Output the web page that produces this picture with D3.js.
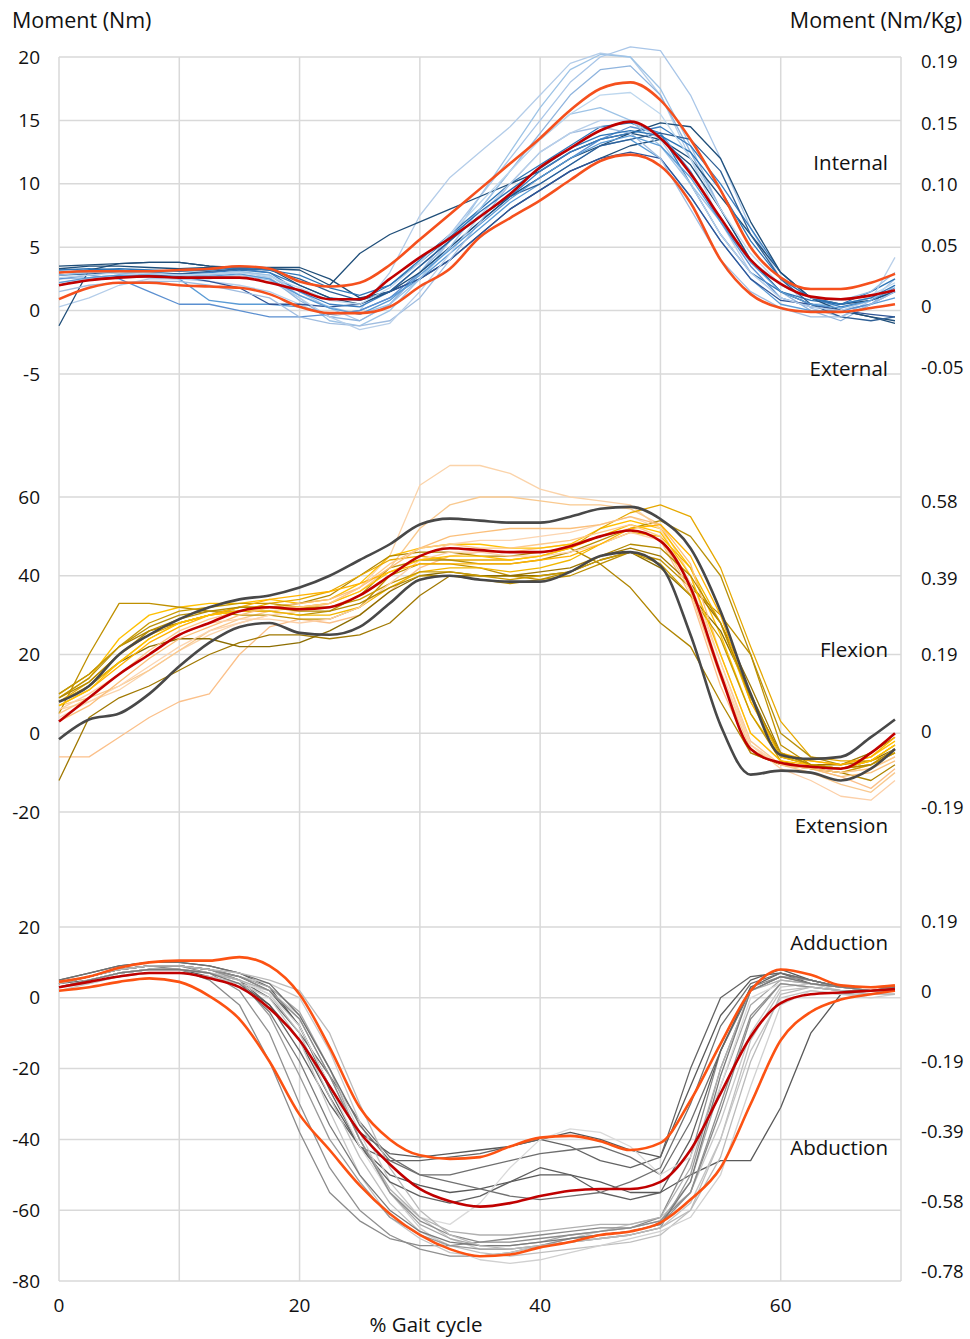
<!DOCTYPE html>
<meta charset="utf-8">
<style>
body { margin: 0; background: #fff; }
text { font-family: "Open Sans", "Noto Sans", sans-serif; fill: #111; }
.grid line { stroke: #d9d9d9; stroke-width: 1.5; }
.trace { fill: none; stroke-width: 1.3; stroke-linejoin: round; }
.band { fill: none; stroke-width: 2.6; }
.mean { fill: none; stroke: #c00000; stroke-width: 2.6; }
</style>
<svg width="970" height="1339"></svg>
<script src="https://d3js.org/d3.v7.min.js"></script>
<script>

// % gait cycle sample points shared by every series
var xs = [0,2.5,5,7.5,10,12.5,15,17.5,20,22.5,25,27.5,30,32.5,35,37.5,40,42.5,45,47.5,50,52.5,55,57.5,60,62.5,65,67.5,69.5];

// ---- rotation (internal / external) ----
var rotMean  = [2.0,2.4,2.6,2.7,2.6,2.6,2.6,2.2,1.6,0.9,0.9,2.5,4.2,5.7,7.4,9.2,11.3,12.8,14.2,14.9,13.6,10.8,7.3,4.0,2.1,1.1,0.9,1.2,1.6];
var rotUpper = [3.0,3.1,3.1,3.1,3.2,3.3,3.5,3.3,2.3,1.9,2.2,3.6,5.6,7.6,9.6,11.6,13.6,15.8,17.5,18.0,16.6,13.5,9.5,5.0,2.6,1.7,1.7,2.2,2.9];
var rotLower = [0.9,1.8,2.2,2.2,2.0,1.9,1.8,1.3,0.3,-0.2,-0.2,0.3,1.9,3.3,5.8,7.3,8.7,10.3,11.8,12.3,11.4,8.5,4.0,1.3,0.2,-0.1,-0.1,0.2,0.5];
var rotTraces = [
  [0.3,1.0,2.0,2.5,2.5,2.3,2.0,1.5,0.5,-0.5,0.0,3.0,7.5,10.5,12.5,14.5,17,19.5,20.3,20,17,12,7,3,1,0.3,0.5,1,1.5],
  [2.0,2.5,2.7,2.6,2.5,2.6,2.8,2.4,1.0,-0.8,-1.2,0,2.5,5.5,9,12.5,16,19,20.2,20,17.5,13,8,4,1.5,0.5,0.5,1.0,1.5],
  [3.0,3.2,3.0,2.8,2.6,2.8,3.0,2.8,1.5,0.2,-0.8,0.5,3,6,9,12,15,18,20,20.8,20.5,17,12,6.5,2.5,0.2,-0.5,0.8,2.5],
  [2.5,2.6,2.8,2.8,2.7,2.8,3.1,2.6,0.8,-0.5,-0.8,0.5,3.0,5.5,8.0,11,14,17,19,19.3,17,12.5,8,4,1.5,0.0,-0.8,0.5,2.0],
  [3.2,3.3,3.2,3.0,2.9,3.0,3.2,3.0,2.0,1.0,0.8,2,4,6,8,10,11.5,13,14.5,14.8,14,10,6,3,1.5,0.8,0.5,1.5,2.5],
  [-1.2,3.2,3.7,3.8,3.8,3.5,3.3,3.3,3.2,2.0,4.5,6,7,8,9,10,11,12.5,13.5,14,13.5,11.5,8,4,1.5,0.5,0,-0.5,-0.8],
  [3.5,3.6,3.7,3.8,3.8,3.5,3.4,3.4,3.4,2.5,1.0,1.5,2.5,4,6,8,9.5,11,12,13,13.5,12,9,6,3,1,0,-0.5,-1.0],
  [2.8,3.0,3.2,3.0,2.5,0.8,0.5,0.5,0.3,-0.3,0,1,2.5,4.5,6.5,8.5,10,11.5,13,13.5,12,9,5.5,2.5,0.5,0,0,0.5,1.0],
  [2.5,2.8,2.5,1.5,0.5,0.5,0.0,-0.5,-0.5,-0.3,0.0,1.0,3,5,7,9,10.5,12,13.5,14.5,14,11,7,3.5,1.0,0.3,0.0,0.5,1.5],
  [2.0,2.5,2.7,2.8,2.7,2.3,1.8,0.5,0.5,0.3,0.5,1.5,2.5,4,6,8,9.5,11,12,12.5,12,9,5.5,2.5,0.8,0.5,0.0,-0.3,-0.5],
  [3.0,3.1,3.0,2.9,2.8,3.0,3.3,3.0,1.5,0.5,0.3,1.5,3.5,5.5,7.5,9,11,12.5,13.5,14,14.5,13,10,6.5,3,1,0.3,0.8,1.5],
  [3.3,3.5,3.5,3.4,3.3,3.4,3.5,3.3,2.0,1.0,0.5,1.5,3,5,7,9,10.5,12,13,14,14.8,14.5,12,7,3,1,0.5,0.8,1.5],
  [2.8,2.9,3.0,3.0,2.9,3.1,3.3,3.2,2.5,1.5,0.8,1.5,3.5,5.5,7.5,9,10,11.5,13,13.5,14,13.5,11,6,2.5,0.5,-0.5,-0.8,-0.5],
  [1.5,2.0,2.2,2.3,2.3,2.0,1.5,1.0,-0.5,-1.0,-1.2,-0.8,1.0,4,7,10,12.5,14,14.5,14,12,8,4,1.5,0.2,-0.5,-0.5,0.5,1.5],
  [2.2,2.5,2.8,2.6,2.5,2.5,2.8,2.6,1.0,-0.5,-1.5,-1.0,1.5,4.5,7.5,10,12.5,14,15,15,13.5,10,6,3,1,0.3,0.0,0.8,4.2],
  [2.8,3.0,3.1,3.0,2.8,2.9,3.1,2.8,1.2,0.3,-0.3,0.5,2.5,5,8,11,13.5,15.5,16,15,13,10,7,4,2,1,0.8,1.5,3.0],
  [3.0,3.2,3.3,3.2,3.1,3.2,3.4,3.2,2.8,1.8,1.2,2.0,3.8,5.8,7.8,9.5,11.2,12.8,13.8,14.2,13.8,12.5,9.5,5.5,2.5,1.0,0.5,1.0,2.0],
  [2.2,2.6,2.8,2.7,2.6,2.7,2.9,2.5,1.2,0.2,-0.3,0.8,2.8,4.8,6.8,8.8,10.5,12,13.2,13.8,13,10.5,7,3.8,1.5,0.5,0.2,0.8,1.8],
  [2.6,2.8,3.0,2.9,2.8,2.9,3.0,2.7,1.8,0.8,0.5,1.8,3.8,6,8.5,11,13.5,15.5,17,17.2,15.5,12,8,4.5,2,1,0.8,1.2,2.2]
];
var rotColors = ["#b4cde9","#9dc3e6","#a9c6e8","#8fb4de","#2e75b6","#1f4e79","#1f4e79","#5b9bd5","#5b8fd0","#2f5597","#3a7dc0","#1f4e79","#2e5f95","#a0bde0","#b8cfe9","#9dc3e6","#2e75b6","#5b9bd5","#bdd7ee"];

// ---- flexion / extension ----
var flxMean  = [3,9,15,20,25,28,31,32,31.5,32,35,40,45,47,46.5,46,46,47.5,50,51.5,48.8,37,15,-4,-7.5,-8.5,-9,-5,0];
var flxUpper = [8,12,20,25,29,32,34,35,37,40,44,48,53,54.5,54,53.5,53.5,55,57,57.5,54.4,47,31,10,-5.5,-6.5,-6,-1,3.5];
var flxLower = [-1.5,3.5,5,10,17,23,27,28,25.5,25,27,33,39,40,39,38.5,38.5,41,45,46,42.5,25,2,-10.5,-9.5,-10,-12,-9,-4];
var flxTraces = [
  [6,8,11,16,21,25,28,30,31,33,37,45,63,68,68,66,62,60,59,58,52,38,15,-3,-8,-9,-10,-9,-6],
  [7,9,12,16,21,26,29,31,32,33,36,42,52,58,60,60,59,58,58,57,53,40,18,-2,-8,-10,-13,-15,-10],
  [-6,-6,-1,4,8,10,20,27,29,28,30,36,42,45,46,46,47,48,50,52,49,35,12,-5,-8,-9,-11,-14,-9],
  [9,14,24,30,32,33,33,34,33,34,38,45,47,48,48,47,47,48,52,54,52,42,25,5,-6,-7,-8,-6,-2],
  [-12,4,9,12,16,20,23,25,25,24,25,28,35,40,40,40,41,42,45,47,45,38,28,12,-5,-8,-8,-5,-1],
  [5,20,33,33,32,31,30,30,29,29,32,40,43,43,42,40,39,40,43,46,44,37,30,20,-3,-8,-9,-8,-5],
  [8,12,18,22,24,24,22,22,23,26,30,36,40,41,40,40,40,41,44,46,42,35,26,10,-6,-8,-9,-7,-4],
  [10,15,22,26,28,30,32,32,33,35,40,45,46,46,45,45,46,47,43,37,28,22,8,-5,-8,-9,-10,-12,-8],
  [8,13,20,25,28,30,31,33,34,36,40,44,45,44,44,44,45,47,52,56,58,55,42,22,3,-6,-7,-7,-5],
  [9,14,22,27,30,31,31,31,30,31,35,42,44,44,43,43,44,46,49,52,54,50,40,20,0,-6,-8,-7,-3],
  [4,8,12,17,22,26,28,30,31,32,35,40,45,48,49,49,50,51,53,55,52,38,16,-3,-8,-9,-10,-8,-4],
  [8,12,18,24,28,30,31,31,30,30,32,37,41,42,42,41,42,44,48,51,50,42,28,8,-6,-8,-9,-7,-3],
  [3,7,13,19,24,27,30,32,33,34,37,42,47,50,51,52,52,52,53,55,53,43,20,0,-7,-9,-11,-10,-7],
  [10,15,22,28,31,32,33,33,32,32,34,38,41,41,40,39,40,41,44,46,43,35,24,5,-7,-9,-10,-8,-5],
  [6,10,15,20,25,28,29,29,28,29,32,38,44,46,46,45,45,46,48,51,49,38,18,-3,-9,-12,-16,-17,-12],
  [7,11,17,23,27,30,32,34,35,36,38,41,43,43,43,43,44,45,48,52,53,45,30,8,-5,-7,-8,-6,-1],
  [7,11,18,24,28,30,31,32,32,33,36,41,44,45,45,44,45,47,50,53,51,40,20,0,-7,-8,-9,-7,-3],
  [5,9,15,21,26,29,31,32,32,33,37,43,47,48,47,47,48,49,51,53,50,36,14,-4,-8,-9,-10,-9,-6],
  [9,13,20,26,29,31,32,32,31,31,33,37,40,40,39,38,39,41,45,48,47,40,28,9,-5,-8,-9,-8,-4]
];
var flxColors = ["#fbd3a9","#f9c98f","#fbc08a","#ffc000","#a07800","#bf9000","#8c6d00","#b08500","#e6a800","#b8900a","#fcd5b0","#f2b700","#fbbf7a","#c99a00","#fcd0a8","#ffb300","#ffc000","#fdc98a","#b48a00"];

// ---- abduction / adduction ----
var abdMean  = [3,4.5,6,7,7,5.5,3,-3,-12,-25,-38,-47,-54,-57.5,-59,-58,-56,-54.5,-54,-54,-52,-43,-27,-11,-1.5,1,1.5,2,2.5];
var abdUpper = [4.5,6,8.5,10,10.5,10.5,11.5,9,1,-14,-31,-40,-44.5,-45.5,-45,-42,-39.5,-39,-40.5,-43,-41,-29,-13,2,8,6.5,3.5,3,3.5];
var abdLower = [2,3,4.5,5.5,4.5,0.5,-6,-18,-33,-43,-53,-61,-67,-71,-73,-72.5,-70.5,-69,-67,-66,-63.5,-57,-48,-30,-12,-4,-0.5,1,2];
var abdTraces = [
  [5,7,9,10,10,9,7,3,-8,-25,-38,-44,-45,-44,-43,-42,-40,-38,-40,-43,-45,-25,-5,5,8,5,3,3,3],
  [4,6,8,9,9,8,5,-2,-15,-30,-42,-46,-46,-45,-44,-42,-40,-42,-46,-48,-45,-20,0,6,7,4,3,2,3],
  [4,5,7,8,8,7,5,0,-10,-22,-35,-45,-50,-50,-48,-46,-44,-43,-42,-45,-50,-35,-15,2,6,5,3,3,3],
  [3,5,7,8,8,6,4,-2,-12,-28,-42,-50,-53,-55,-54,-52,-50,-50,-52,-55,-55,-50,-46,-46,-31,-10,1,2,3],
  [3,5,7,8,8,7,6,4,0,-15,-35,-52,-62,-68,-71,-71,-70,-68,-66,-64,-62,-55,-35,-10,3,4,2,1,1],
  [4,6,8,9,9,7,2,-10,-30,-48,-60,-67,-71,-73,-73,-72,-70,-68,-67,-66,-64,-55,-30,-5,4,3,2,2,2],
  [3,5,7,8,8,7,5,1,-10,-28,-45,-58,-66,-70,-72,-73,-72,-71,-70,-69,-67,-60,-40,-12,2,3,2,2,2],
  [4,6,8,9,8,5,-2,-18,-38,-55,-63,-68,-70,-70,-69,-68,-67,-66,-65,-65,-62,-45,-15,3,6,4,3,3,3],
  [3,4,6,7,7,6,4,2,-5,-20,-38,-55,-65,-71,-74,-75,-74,-72,-70,-68,-66,-62,-50,-25,-2,2,1,0,1],
  [4,6,8,9,9,8,6,3,-4,-20,-40,-55,-64,-68,-70,-70,-69,-67,-66,-65,-63,-52,-25,-2,5,4,3,3,3],
  [4,6,8,9,9,8,6,2,-8,-26,-42,-52,-56,-58,-56,-52,-48,-50,-55,-57,-55,-40,-15,3,7,5,3,3,3],
  [2,4,6,7,7,6,4,0,-12,-32,-50,-62,-68,-72,-73,-72,-70,-69,-68,-67,-65,-58,-40,-15,0,2,1,1,1],
  [4,6,8,9,9,8,5,-5,-22,-40,-52,-62,-67,-70,-71,-71,-70,-69,-68,-67,-65,-50,-20,2,6,5,3,2,3],
  [3,5,7,8,8,7,5,1,-8,-25,-42,-55,-62,-64,-58,-48,-40,-37,-38,-42,-50,-45,-25,0,4,3,2,1,2],
  [5,7,9,10,10,9,7,4,-5,-20,-36,-46,-50,-52,-54,-56,-57,-56,-55,-52,-48,-30,-8,4,7,5,3,3,3],
  [3,5,7,8,8,7,5,2,-6,-22,-40,-54,-62,-66,-67,-67,-66,-65,-64,-64,-62,-48,-20,2,5,4,3,2,2],
  [4,6,8,9,9,8,6,2,-6,-22,-40,-55,-63,-67,-69,-69,-68,-67,-66,-65,-63,-55,-32,-6,4,3,2,2,2],
  [3,5,7,8,8,7,4,-4,-18,-36,-50,-60,-66,-69,-70,-70,-69,-68,-67,-66,-64,-52,-22,2,6,4,3,2,2],
  [4,6,8,9,9,8,7,5,2,-10,-30,-48,-60,-67,-70,-71,-70,-69,-68,-67,-65,-60,-45,-18,1,3,2,1,1]
];
var abdColors = ["#595959","#636363","#6e6e6e","#595959","#c8c8c8","#909090","#bfbfbf","#8a8a8a","#d0d0d0","#a6a6a6","#5f5f5f","#c4c4c4","#999999","#dadada","#707070","#b0b0b0","#8c8c8c","#7a7a7a","#bababa"];

// tick labels
var rotTicks = [20,15,10,5,0,-5], rotRight = ["0.19","0.15","0.10","0.05","0","-0.05"];
var flxTicks = [60,40,20,0,-20],  flxRight = ["0.58","0.39","0.19","0","-0.19"];
var abdTicks = [20,0,-20,-40,-60,-80], abdRight = ["0.19","0","-0.19","-0.39","-0.58","-0.78"];
var xTicks = [0,20,40,60];

var svg = d3.select("svg");

var x = d3.scaleLinear().domain([0, 70]).range([59, 901]);

// right-hand (Nm/Kg) labels are evenly spaced, so they get their own index scale
var panels = [
  { y: d3.scaleLinear().domain([-5, 20]).range([374, 57]), ticks: rotTicks, right: rotRight, rightPos: [62, 368],
    mean: rotMean, upper: rotUpper, lower: rotLower, traces: rotTraces, colors: rotColors, band: "#f5501d",
    labels: [["Internal", 163], ["External", 369]] },
  { y: d3.scaleLinear().domain([-20, 60]).range([812, 497]), ticks: flxTicks, right: flxRight, rightPos: [502, 808],
    mean: flxMean, upper: flxUpper, lower: flxLower, traces: flxTraces, colors: flxColors, band: "#484848",
    labels: [["Flexion", 650], ["Extension", 826]] },
  { y: d3.scaleLinear().domain([-80, 20]).range([1281, 927]), ticks: abdTicks, right: abdRight, rightPos: [922, 1272],
    mean: abdMean, upper: abdUpper, lower: abdLower, traces: abdTraces, colors: abdColors, band: "#fc5212",
    labels: [["Adduction", 943], ["Abduction", 1148]] }
];

// vertical grid through all panels
svg.append("g").attr("class", "grid")
  .selectAll("line").data(d3.range(0, 71, 10)).join("line")
  .attr("x1", d => x(d)).attr("x2", d => x(d))
  .attr("y1", 57).attr("y2", 1281);

panels.forEach(function(p) {
  svg.append("g").attr("class", "grid")
    .selectAll("line").data(p.ticks).join("line")
    .attr("x1", x(0)).attr("x2", x(70))
    .attr("y1", d => p.y(d)).attr("y2", d => p.y(d));

  svg.append("g").selectAll("text").data(p.ticks).join("text")
    .attr("x", 40).attr("y", d => p.y(d)).attr("dy", "0.35em")
    .attr("text-anchor", "end").style("font-size", "19px")
    .text(d => d);

  var ry = d3.scaleLinear().domain([0, p.right.length - 1]).range(p.rightPos);
  svg.append("g").selectAll("text").data(p.right).join("text")
    .attr("x", 921).attr("y", (d, i) => ry(i)).attr("dy", "0.35em")
    .style("font-size", "18.5px")
    .text(d => d);

  svg.append("g").selectAll("text").data(p.labels).join("text")
    .attr("x", 888).attr("y", d => d[1]).attr("dy", "0.35em")
    .attr("text-anchor", "end").style("font-size", "20.5px")
    .text(d => d[0]);

  var line = d3.line().x((d, i) => x(xs[i])).y(d => p.y(d));
  var smooth = d3.line().x((d, i) => x(xs[i])).y(d => p.y(d)).curve(d3.curveMonotoneX);

  svg.append("g").selectAll("path").data(p.traces).join("path")
    .attr("class", "trace")
    .attr("stroke", (d, i) => p.colors[i])
    .attr("d", line);

  svg.append("g").selectAll("path").data([p.upper, p.lower]).join("path")
    .attr("class", "band").attr("stroke", p.band)
    .attr("d", smooth);

  svg.append("path").attr("class", "mean").attr("d", smooth(p.mean));
});

// x axis labels
svg.append("g").selectAll("text").data(xTicks).join("text")
  .attr("x", d => x(d)).attr("y", 1305).attr("dy", "0.35em")
  .attr("text-anchor", "middle").style("font-size", "19px")
  .text(d => d);

svg.append("text").attr("x", 426).attr("y", 1325).attr("dy", "0.35em")
  .attr("text-anchor", "middle").style("font-size", "20.5px").text("% Gait cycle");

svg.append("text").attr("x", 12).attr("y", 20).attr("dy", "0.35em")
  .style("font-size", "21.5px").text("Moment (Nm)");
svg.append("text").attr("x", 962).attr("y", 20).attr("dy", "0.35em")
  .attr("text-anchor", "end").style("font-size", "21.5px").text("Moment (Nm/Kg)");

</script>
